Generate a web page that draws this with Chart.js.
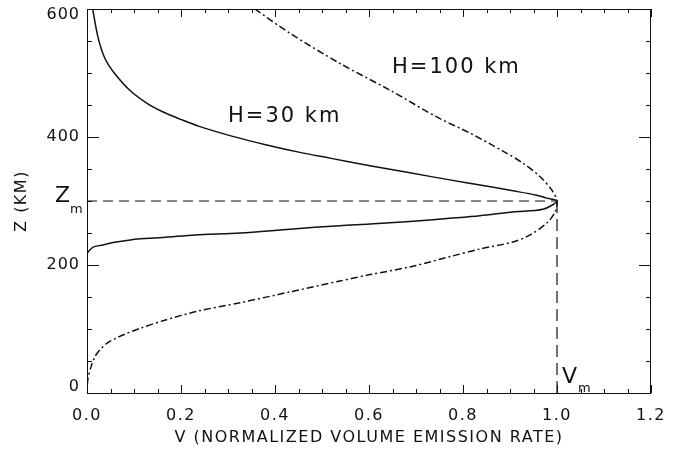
<!DOCTYPE html>
<html>
<head>
<meta charset="utf-8">
<script src="https://cdn.jsdelivr.net/npm/chart.js@4/dist/chart.umd.min.js"></script>
<style>
  body { margin: 0; background: #fff; }
  #wrap { width: 677px; height: 453px; position: relative; }
</style>
</head>
<body>
<div id="wrap"><canvas id="myChart"></canvas></div>
<script>
// tick labels
const xTicks = [0, 0.2, 0.4, 0.6, 0.8, 1.0, 1.2];
const yTicks = [0, 200, 400, 600];

// peak of both profiles
const vPeak = 1.0;
const zPeak = 300;

// H=30 km profile (solid), top to bottom
const h30V = [0.012, 0.024, 0.038, 0.058, 0.091, 0.127, 0.162, 0.198, 0.237, 0.31, 0.38, 0.453,
  0.517, 0.602, 0.687, 0.772, 0.836, 0.906, 0.957, 0.978, 1.0,
  0.97, 0.906, 0.836, 0.772, 0.687, 0.602, 0.538, 0.432, 0.326, 0.23, 0.162, 0.113,
  0.056, 0.031, 0.013, 0.003, 0.0, 0.0];
const h30Z = [600, 554, 523, 500, 473, 453, 439, 428, 417, 401, 388, 376,
  367, 355, 344, 333, 325, 316, 309, 304.5, 300,
  287, 283, 277, 273, 268, 264, 261.5, 256, 250, 247, 243, 241,
  235, 231, 228, 221, 216, 0];

// H=100 km profile (dash-dot)
const h100V = [0.357, 0.432, 0.538, 0.645, 0.745, 0.815, 0.885, 0.928, 0.964, 0.989, 1.0,
  0.996, 0.979, 0.943, 0.906, 0.836, 0.772, 0.687, 0.602, 0.538, 0.432, 0.326, 0.236,
  0.162, 0.113, 0.081, 0.06, 0.043, 0.028, 0.017, 0.009, 0.002, 0.0];
const h100Z = [600, 562, 515, 473, 431, 406, 378, 359, 338, 317, 300,
  283, 266, 247, 236, 225, 213, 197, 185, 175, 158, 141, 128,
  113, 101, 92, 85, 78, 68, 57, 42, 22, 5];

const FONT = '"DejaVu Sans", sans-serif';

function pts(vs, zs) {
  return vs.map((v, i) => ({ x: v, y: zs[i] }));
}

function txt(ctx, s, x, y, size, align, spacing) {
  ctx.font = size + "px " + FONT;
  ctx.letterSpacing = spacing + "px";
  ctx.textAlign = align;
  ctx.textBaseline = "alphabetic";
  ctx.fillText(s, x, y);
}

const frame = {
  id: "frame",
  beforeDraw(chart) {
    chart.ctx.letterSpacing = "1.5px";
  },
  afterDraw(chart) {
    const {
      ctx,
      chartArea: { top, bottom, left, right },
      scales: { x, y },
    } = chart;
    ctx.save();
    ctx.strokeStyle = "#111";
    ctx.lineWidth = 1;
    ctx.beginPath();
    ctx.moveTo(left + 0.5, top + 0.5);
    ctx.lineTo(right - 0.5, top + 0.5);
    ctx.lineTo(right - 0.5, bottom + 0.5);
    ctx.lineTo(left + 0.5, bottom + 0.5);
    ctx.closePath();
    ctx.stroke();

    // inward ticks on all four sides
    ctx.beginPath();
    for (let i = 0; i <= 24; i++) {
      const v = i * 0.05;
      const px = Math.round(x.getPixelForValue(v)) + 0.5;
      const len = i % 4 === 0 ? 8 : 4;
      ctx.moveTo(px, bottom);
      ctx.lineTo(px, bottom - len);
      ctx.moveTo(px, top);
      ctx.lineTo(px, top + len);
    }
    for (let i = 0; i <= 12; i++) {
      const v = i * 50;
      const py = Math.round(y.getPixelForValue(v)) + 0.5;
      const len = i % 4 === 0 ? 12 : 5;
      ctx.moveTo(left, py);
      ctx.lineTo(left + len, py);
      ctx.moveTo(right, py);
      ctx.lineTo(right - len, py);
    }
    ctx.stroke();

    ctx.fillStyle = "#111";
    // y tick labels, kept inside the frame at the ends
    yTicks.forEach((v) => {
      let py = y.getPixelForValue(v);
      py = Math.min(Math.max(py, top + 6), bottom - 6);
      ctx.font = "16px " + FONT;
      ctx.letterSpacing = "1px";
      ctx.textAlign = "right";
      ctx.textBaseline = "middle";
      ctx.fillText(String(v), left - 7, py);
    });

    // curve labels
    txt(ctx, "H=30 km", x.getPixelForValue(0.30), y.getPixelForValue(423), 21, "left", 2);
    txt(ctx, "H=100 km", x.getPixelForValue(0.649), y.getPixelForValue(500), 21, "left", 2);

    // Z_m and V_m
    const zy = y.getPixelForValue(zPeak);
    txt(ctx, "Z", left - 32, zy + 1, 22, "left", 0);
    txt(ctx, "m", left - 17, zy + 12, 13, "left", 0);
    const vx = x.getPixelForValue(vPeak);
    txt(ctx, "V", vx + 5, bottom - 10, 22, "left", 0);
    txt(ctx, "m", vx + 21, bottom - 1, 13, "left", 0);
    ctx.restore();
  },
};

const chart = new Chart(document.getElementById("myChart"), {
  type: "scatter",
  data: {
    datasets: [
      {
        label: "H=30 km",
        data: pts(h30V, h30Z),
        showLine: true,
        borderColor: "#111",
        borderWidth: 1.5,
        pointRadius: 0,
        tension: 0.3,
      },
      {
        label: "H=100 km",
        data: pts(h100V, h100Z),
        showLine: true,
        borderColor: "#111",
        borderWidth: 1.5,
        borderDash: [7, 3, 2, 3],
        pointRadius: 0,
        tension: 0.3,
      },
      {
        label: "Zm",
        data: pts([0, vPeak], [zPeak, zPeak]),
        showLine: true,
        borderColor: "#111",
        borderWidth: 1.2,
        borderDash: [10, 6],
        pointRadius: 0,
      },
      {
        label: "Vm",
        data: pts([vPeak, vPeak], [zPeak, 0]),
        showLine: true,
        borderColor: "#111",
        borderWidth: 1.2,
        borderDash: [12, 6],
        pointRadius: 0,
      },
    ],
  },
  options: {
    responsive: true,
    maintainAspectRatio: false,
    animation: false,
    layout: { padding: { top: 9, right: 26, left: 0, bottom: 0 } },
    plugins: { legend: { display: false }, tooltip: { enabled: false } },
    scales: {
      x: {
        type: "linear",
        min: 0,
        max: 1.2,
        afterBuildTicks: (s) => {
          s.ticks = xTicks.map((v) => ({ value: v }));
        },
        afterFit: (s) => {
          s.height = 60;
        },
        grid: { display: false, drawTicks: false },
        border: { display: false },
        ticks: {
          color: "#111",
          font: { family: FONT, size: 16 },
          padding: 13,
          maxRotation: 0,
          autoSkip: false,
          callback: (v) => Number(v).toFixed(1),
        },
        title: {
          display: true,
          text: "V (NORMALIZED VOLUME EMISSION RATE)",
          color: "#111",
          font: { family: FONT, size: 16 },
          padding: { top: 0, bottom: 6 },
        },
      },
      y: {
        type: "linear",
        min: 0,
        max: 600,
        afterBuildTicks: (s) => {
          s.ticks = yTicks.map((v) => ({ value: v }));
        },
        afterFit: (s) => {
          s.width = 87;
        },
        grid: { display: false, drawTicks: false },
        border: { display: false },
        ticks: { display: false },
        title: {
          display: true,
          text: "Z (KM)",
          color: "#111",
          font: { family: FONT, size: 16 },
          padding: { top: 12, bottom: 0 },
        },
      },
    },
  },
  plugins: [frame],
});
</script>
</body>
</html>
